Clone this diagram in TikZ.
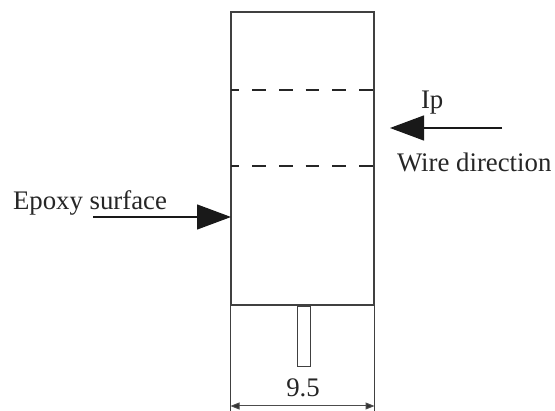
\documentclass[tikz,border=0pt]{standalone}
\usepackage{fontspec}
\setmainfont{Liberation Serif}
\usetikzlibrary{arrows.meta}
\tikzset{
  lbl/.style={inner sep=0pt,outer sep=0pt,text=black!85,font=\fontsize{26.8}{30}\selectfont},
  outline/.style={draw=black!75,line width=1.4pt},
  thin line/.style={draw=black!75,line width=1.2pt},
  bigarrow/.style={draw=black!90,line width=1.2pt,-{Triangle[length=34pt,width=25pt,fill=black!90]}},
  dimarrow/.style={draw=black!70,line width=1pt,{Triangle[length=9pt,width=7pt,fill=black!80]}-{Triangle[length=9pt,width=7pt,fill=black!80]}},
  dashline/.style={draw=black!85,line width=1.3pt,dash pattern=on 13.7pt off 13pt}
}
\begin{document}
\begin{tikzpicture}[x=1pt,y=-1pt]
\useasboundingbox (0,0) rectangle (555,411);
\fill[white] (0,0) rectangle (555,411);
% body
\coordinate (tl) at (231,12);
\coordinate (tr) at (374,12);
\coordinate (bl) at (231,305);
\coordinate (br) at (374,305);
\draw[outline] (tl) -- (tr) -- (br) -- (bl) -- cycle;
\draw[line width=2pt,draw=black!75] (231,277) -- (bl);
\draw[line width=2pt,draw=black!75] (374,277) -- (br);
% dashed section lines
\coordinate (d1l) at (231,90);
\coordinate (d1r) at (374,90);
\coordinate (d2l) at (231,166);
\coordinate (d2r) at (374,166);
\draw[dashline,dash phase=5.4pt] (d1l) -- (d1r);
\draw[dashline,dash phase=5.4pt] (d2l) -- (d2r);
% pin
\node[outline,line width=1.1pt,minimum width=13pt,minimum height=60.5pt,inner sep=0pt,anchor=north] (pin) at (303.7,305.5) {};
% dimension
\coordinate (e1) at (230.5,305);
\coordinate (e2) at (230.5,411);
\coordinate (e3) at (374.5,305);
\coordinate (e4) at (374.5,411);
\draw[thin line] (e1) -- (e2);
\draw[thin line] (e3) -- (e4);
\coordinate (da) at (230.5,406);
\coordinate (db) at (374.5,406);
\draw[dimarrow] (da) -- (db);
\node[lbl,anchor=base] (dim) at (303,397) {9.5};
% Ip arrow
\node[lbl,anchor=base west] (ip) at (421,108.3) {Ip};
\coordinate (ia) at (502,128);
\coordinate (ib) at (390,128);
\draw[bigarrow] (ia) -- (ib);
\node[lbl,anchor=base west] (wire) at (397,171.7) {Wire direction};
% epoxy
\node[lbl,anchor=base west] (epoxy) at (13,209.5) {Epoxy surface};
\coordinate (ea) at (93,217);
\coordinate (eb) at (231,217);
\draw[bigarrow] (ea) -- (eb);
\end{tikzpicture}
\end{document}
